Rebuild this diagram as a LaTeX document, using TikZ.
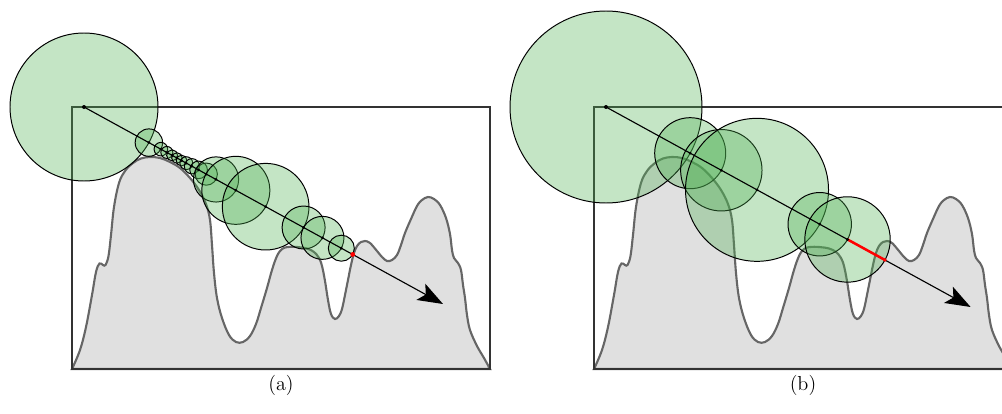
\documentclass[tikz,border=0pt]{standalone}
\usepackage{tikz}
\usetikzlibrary{arrows.meta}
\definecolor{green500}{HTML}{4CAF50}
\definecolor{grey200} {HTML}{E0E0E0}
\definecolor{grey600} {HTML}{666666}
\definecolor{grey900} {HTML}{333333}
\tikzset{
  terrain/.style={fill=grey200, draw=grey600, line width=1.5pt},
  frame/.style  ={draw=grey900, line width=0.9pt},
  ball/.style   ={fill=green500, fill opacity=0.33, draw=black,
                  line width=0.7pt},
  ray/.style    ={-{Stealth[length=6.3mm,width=4.6mm,inset=1.4mm]},
                  draw=black, line width=0.8pt},
  dot/.style    ={fill=black},
  hit/.style    ={draw=red, line width=1.8pt},
  lbl/.style    ={font=\Large, inner sep=0pt}
}

\begin{document}
\begin{tikzpicture}[x=0.025cm, y=-0.025cm]
\useasboundingbox (0,0) rectangle (1002,414);

% same terrain and frame in both panels
\foreach \sx/\lab in {0/a, 522/b} {
  \begin{scope}[shift={(\sx,0)}]
    \filldraw[terrain] plot[smooth, tension=0.6] coordinates {
      (72,369) (80,350) (86,327) (92,295) (96,272) (99.5,263.5) (103,265)
      (105.5,265) (108.5,256) (111,235) (114,207) (119,183) (125,171)
      (133,163) (141,158.5) (150,157) (160,158) (170,162) (180,168)
      (190,178) (199,190) (206,204) (210,220) (212,245) (214,273)
      (217,298) (222,318) (229,335) (236,342) (243,342) (250,336)
      (256,324) (261,308) (267,288) (272,270) (277,256) (282,249)
      (288,247) (297,247) (307,248.5) (314,252) (319,258) (322,266)
      (325,281) (328,300) (331,314) (335,319) (339,316) (342,309)
      (345,295) (348,280) (351,265) (354,253) (357,246) (361,242)
      (365,241) (370,243) (377,251) (382,257) (387,261) (392,260)
      (397,255) (401,245) (405,233) (411,219) (417,206) (422,200)
      (428,197) (434,199) (440,205) (446,218) (450,234) (452,250)
      (454,258) (458,263) (461,270) (463,285) (465,298) (467,315)
      (470,330) (477,346) (484,358) (490,369)} -- cycle;
    \draw[frame] (72,107) rectangle (490,369);
    \node[lbl] (lab\lab) at (281,385) {(\lab)};
  \end{scope}
}

% (a) steps that close in on the surface
\coordinate (oa) at (84,107);
\coordinate (ta) at (443,304);
\coordinate (hita) at ({84+0.8767*306.5},{107+0.4811*306.5});
\foreach \t/\r in {0/74, 74/13.7, 87.7/6.8, 94.5/6, 100.5/5.5, 106/5.3,
                   111.3/5.4, 116.7/6.4, 123.1/7.6, 130.7/8.8, 139.5/11.1,
                   150.6/22.6, 173.2/34, 207.2/43.3, 250.5/21.5, 272/21.5,
                   293.5/13}
  \filldraw[ball] ({84+0.8767*\t},{107+0.4811*\t}) circle[radius=\r];
\draw[ray] (oa) -- (ta);
\foreach \t in {87.7, 94.5, 100.5, 106, 111.3, 116.7, 123.1, 130.7, 139.5,
                150.6, 173.2, 207.2, 250.5, 272, 293.5, 74}
  \fill[dot] ({84+0.8767*\t},{107+0.4811*\t}) circle[radius=1.5];
\fill[dot] (oa) circle[radius=2];
\fill[red] (hita) circle[radius=2.4];

% (b) larger steps, the last one overshoots
\coordinate (ob) at (606,107);
\coordinate (tb) at (970.6,307);
\coordinate (hb1) at ({606+0.877*275.4},{107+0.481*275.4});
\coordinate (hb2) at ({606+0.877*318.1},{107+0.481*318.1});
\foreach \t/\r in {0/96, 96/35.5, 131.5/40.7, 172.2/71.5, 243.7/31.7,
                   275.4/42.7}
  \filldraw[ball] ({606+0.877*\t},{107+0.481*\t}) circle[radius=\r];
\draw[ray] (ob) -- (tb);
\foreach \t in {96, 131.5, 172.2, 243.7}
  \fill[dot] ({606+0.877*\t},{107+0.481*\t}) circle[radius=1.5];
\fill[dot] (ob) circle[radius=2];
\draw[hit] (hb1) -- (hb2);
\fill[dot] (hb1) circle[radius=1.6];
\fill[red] (hb2) circle[radius=1.8];
\end{tikzpicture}
\end{document}
